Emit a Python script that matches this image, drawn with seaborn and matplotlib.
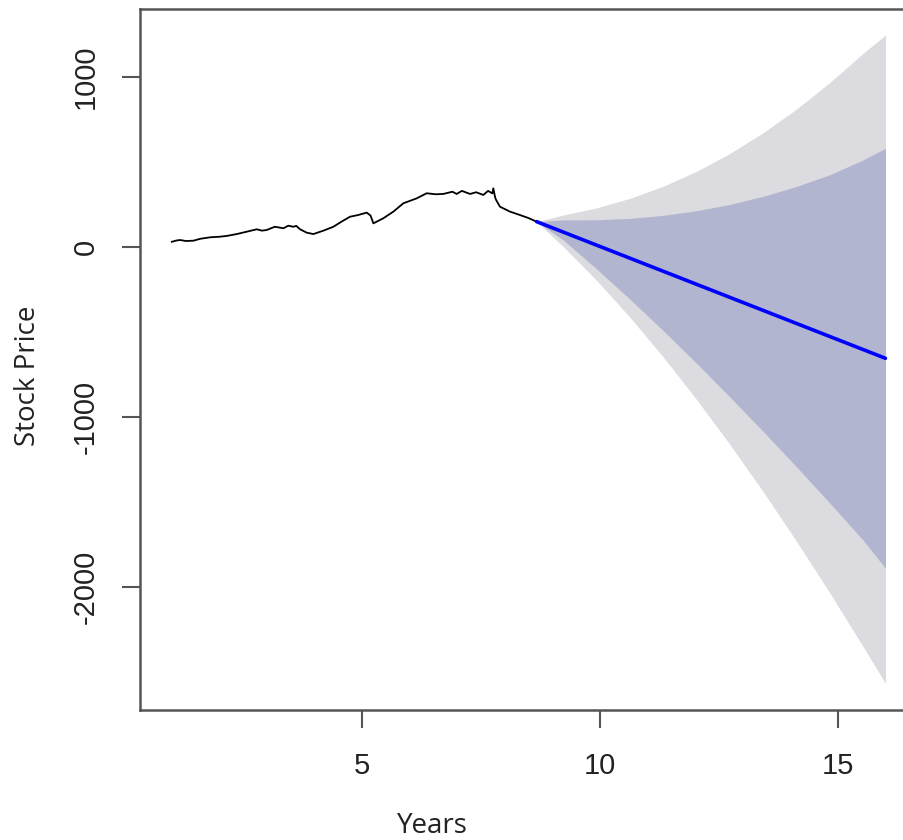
import matplotlib
matplotlib.use("Agg")
import matplotlib.pyplot as plt
import seaborn as sns
import pandas as pd

# Observed stock price history (years, price)
hist_years = [1.00, 1.10, 1.18, 1.30, 1.46, 1.60, 1.81, 2.00, 2.16, 2.37, 2.58, 2.79,
              2.90, 3.00, 3.17, 3.35, 3.45, 3.56, 3.62, 3.70, 3.84, 3.98, 4.19, 4.40,
              4.57, 4.75, 4.92, 5.10, 5.18, 5.24, 5.45, 5.66, 5.87, 6.15, 6.36, 6.55,
              6.71, 6.90, 6.99, 7.10, 7.27, 7.40, 7.55, 7.65, 7.74, 7.76, 7.80, 7.82,
              7.90, 8.11, 8.32, 8.50, 8.67]
hist_price = [30, 38, 41, 35, 37, 48, 57, 60, 65, 76, 90, 104,
              96, 100, 119, 110, 125, 119, 124, 104, 84, 76, 96, 119,
              149, 178, 188, 202, 185, 139, 169, 208, 257, 286, 316, 310,
              312, 325, 312, 330, 312, 322, 306, 330, 315, 345, 290, 276,
              237, 208, 188, 170, 149]

# Point forecast
fc_years = [8.67, 16.0]
fc_mean = [149, -655]

# Prediction intervals
band_years = [8.67, 9.23, 9.93, 10.63, 11.33, 12.03, 12.73, 13.43, 14.13, 14.83, 15.53, 16.0]
hi80 = [149, 159, 160, 168, 186, 213, 250, 298, 356, 425, 512, 581]
lo80 = [149, 41, -129, -307, -492, -684, -882, -1085, -1293, -1506, -1724, -1890]
hi95 = [149, 188, 230, 286, 357, 445, 550, 672, 811, 967, 1139, 1247]
lo95 = [149, 2, -196, -413, -647, -897, -1161, -1439, -1731, -2035, -2351, -2567]

x_ticks = [5, 10, 15]
y_ticks = [-2000, -1000, 0, 1000]

sns.set_style("ticks")
plt.rcParams["font.family"] = ["Liberation Sans", "DejaVu Sans"]

W, H = 904, 840
fig = plt.figure(figsize=(W / 100, H / 100), dpi=100)
ax = fig.add_axes([140 / W, 1 - 710 / H, (914 - 140) / W, (710 - 9) / H])

ax.fill_between(band_years, lo95, hi95, color="#dbdbe0", linewidth=0)
ax.fill_between(band_years, lo80, hi80, color="#b1b5cf", linewidth=0)

hist = pd.DataFrame({"Years": hist_years, "Price": hist_price})
fc = pd.DataFrame({"Years": fc_years, "Price": fc_mean})
sns.lineplot(data=hist, x="Years", y="Price", ax=ax, color="black", linewidth=1.3,
             estimator=None, sort=False)
sns.lineplot(data=fc, x="Years", y="Price", ax=ax, color="#0000ff", linewidth=2.6,
             estimator=None, sort=False)

ax.set_xlim(0.336, 16.6)
ax.set_ylim(-2724, 1400)
ax.set_xticks(x_ticks)
ax.set_yticks(y_ticks)
ax.set_xticklabels([str(t) for t in x_ticks])
ax.set_yticklabels([str(t) for t in y_ticks], rotation=90, va="center")
ax.tick_params(axis="both", direction="out", length=13, width=1.5, color="#555555",
               labelsize=21, labelcolor="#222222", bottom=True, left=True,
               top=False, right=False)
ax.tick_params(axis="x", pad=17)
ax.tick_params(axis="y", pad=16)

for side in ["left", "bottom", "top"]:
    ax.spines[side].set_color("#555555")
    ax.spines[side].set_linewidth(1.8)
ax.spines["right"].set_visible(False)

ax.set_xlabel("")
ax.set_ylabel("")
fig.text(432 / W, 7 / H, "Years", ha="center", va="baseline", fontsize=20,
         family=["Open Sans", "DejaVu Sans"], color="#222222")
fig.text(28 / W, 1 - 376 / H, "Stock Price", ha="center", va="center", fontsize=20,
         rotation=90, family=["Open Sans", "DejaVu Sans"], color="#222222")

fig.savefig("out.png", dpi=100)
